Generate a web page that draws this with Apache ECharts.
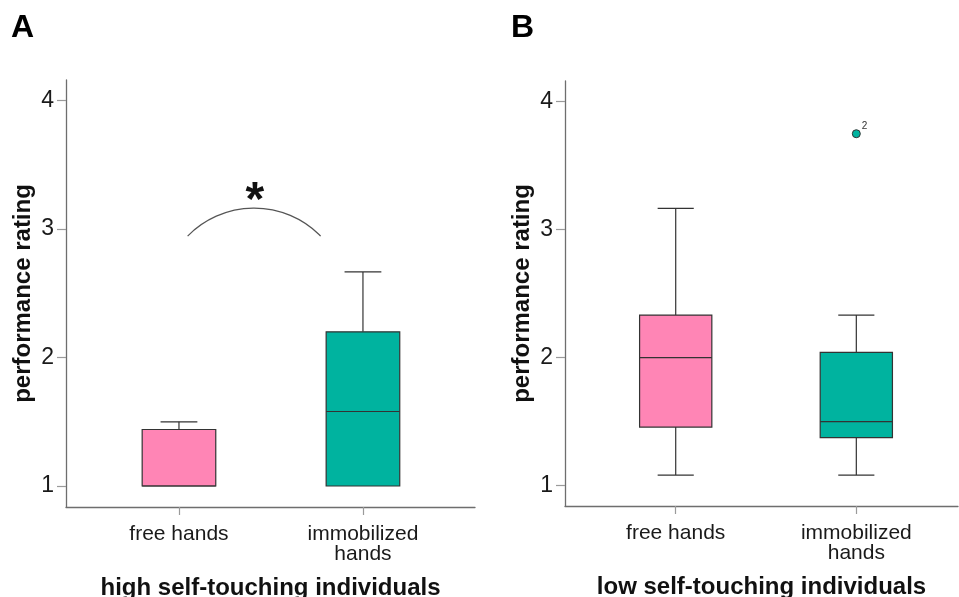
<!DOCTYPE html>
<html><head><meta charset="utf-8">
<script src="https://cdn.jsdelivr.net/npm/echarts@6/dist/echarts.min.js"></script>
<style>html,body{margin:0;padding:0;background:#fff}#c{width:959px;height:597px}</style>
</head><body><div id="c"></div>
<script>
const categories = ['free hands', 'immobilized\nhands'];
const yTicks = [1, 2, 3, 4];
const xTicks = [1, 2];
// box stats: [min, Q1, median, Q3, max]
const highBoxes = [[1.0, 1.0, 1.0, 1.44, 1.5], [1.0, 1.0, 1.58, 2.2, 2.667]];
const lowBoxes = [[1.083, 1.458, 2.0, 2.333, 3.167], [1.083, 1.375, 1.5, 2.042, 2.333]];
// outliers: [category position, value, case label]
const lowOutliers = [[2, 3.75, '2']];
// significance arc (left end, apex, right end) and star
const sigArc = [1.047, 2.946, 1.366, 3.161, 1.77, 2.946];
const sigStar = [1.413, 3.212, '*'];
const panelNames = ['high self-touching individuals', 'low self-touching individuals'];
const panelLetters = ['A', 'B'];
const boxColors = ['#FF85B5', '#00B39F'];

const FONT = '"Liberation Sans", Arial, sans-serif';
const chart = echarts.init(document.getElementById('c'), null, {renderer: 'canvas'});

function boxRender(params, api) {
  const x = api.value(0);
  const mn = api.value(1), q1 = api.value(2), md = api.value(3), q3 = api.value(4), mx = api.value(5);
  const hb = 0.2, hc = 0.1;
  const stroke = {stroke: '#333', lineWidth: 1.2};
  const children = [];
  const line = (a, b) => ({type: 'line', shape: {x1: a[0], y1: a[1], x2: b[0], y2: b[1]}, style: stroke});
  if (mx > q3) {
    children.push(line(api.coord([x, q3]), api.coord([x, mx])));
    children.push(line(api.coord([x - hc, mx]), api.coord([x + hc, mx])));
  }
  if (mn < q1) {
    children.push(line(api.coord([x, q1]), api.coord([x, mn])));
    children.push(line(api.coord([x - hc, mn]), api.coord([x + hc, mn])));
  }
  const tl = api.coord([x - hb, q3]);
  const br = api.coord([x + hb, q1]);
  children.push({type: 'rect', shape: {x: tl[0], y: tl[1], width: br[0] - tl[0], height: br[1] - tl[1]},
    style: {fill: boxColors[params.dataIndex], stroke: '#333', lineWidth: 1.2}});
  children.push(line(api.coord([x - hb, md]), api.coord([x + hb, md])));
  return {type: 'group', children};
}

function sigRender(params, api) {
  const a = api.coord([api.value(0), api.value(1)]);
  const b = api.coord([api.value(2), api.value(3)]);
  const c = api.coord([api.value(4), api.value(5)]);
  const d = 2 * (a[0] * (b[1] - c[1]) + b[0] * (c[1] - a[1]) + c[0] * (a[1] - b[1]));
  const A2 = a[0] * a[0] + a[1] * a[1], B2 = b[0] * b[0] + b[1] * b[1], C2 = c[0] * c[0] + c[1] * c[1];
  const ux = (A2 * (b[1] - c[1]) + B2 * (c[1] - a[1]) + C2 * (a[1] - b[1])) / d;
  const uy = (A2 * (c[0] - b[0]) + B2 * (a[0] - c[0]) + C2 * (b[0] - a[0])) / d;
  const r = Math.hypot(a[0] - ux, a[1] - uy);
  const s = Math.atan2(a[1] - uy, a[0] - ux), e = Math.atan2(c[1] - uy, c[0] - ux);
  const star = api.coord([sigStar[0], sigStar[1]]);
  return {type: 'group', children: [
    {type: 'arc', shape: {cx: ux, cy: uy, r: r, startAngle: s, endAngle: e, clockwise: true},
     style: {stroke: '#555', lineWidth: 1.2, fill: null}},
    {type: 'text', x: star[0], y: star[1],
     style: {text: sigStar[2], fontSize: 48, fontWeight: 'bold', fontFamily: FONT, fill: '#111',
             align: 'center', verticalAlign: 'middle'}}
  ]};
}

function xAxis(idx, min, max) {
  return {
    type: 'value', gridIndex: idx, min: min, max: max,
    axisLine: {show: true, onZero: false, lineStyle: {color: '#6e6e6e', width: 1.3}},
    axisTick: {show: true, customValues: xTicks, length: 8, lineStyle: {color: '#9a9a9a', width: 1.2}},
    axisLabel: {customValues: xTicks, formatter: v => categories[Math.round(v) - 1], margin: 17,
      fontSize: 21, lineHeight: 20, color: '#1a1a1a', fontFamily: FONT, align: 'center'},
    splitLine: {show: false},
    name: panelNames[idx], nameLocation: 'middle', nameGap: 69,
    nameTextStyle: {fontSize: 24, fontWeight: 'bold', color: '#111', fontFamily: FONT}
  };
}
function yAxis(idx, min, max) {
  return {
    type: 'value', gridIndex: idx, min: min, max: max,
    axisLine: {show: true, onZero: false, lineStyle: {color: '#6e6e6e', width: 1.3}},
    axisTick: {show: true, customValues: yTicks, length: 9, lineStyle: {color: '#9a9a9a', width: 1.2}},
    axisLabel: {customValues: yTicks, margin: 12, fontSize: 23, color: '#1a1a1a', fontFamily: FONT},
    splitLine: {show: false},
    name: 'performance rating', nameLocation: 'middle', nameGap: 31, nameRotate: 90,
    nameTextStyle: {fontSize: 24, fontWeight: 'bold', color: '#111', fontFamily: FONT}
  };
}

const option = {
  animation: false,
  backgroundColor: '#fff',
  title: [
    {text: panelLetters[0], left: 11, top: 12, padding: 0, textStyle: {fontSize: 32, fontWeight: 'bold', color: '#000', fontFamily: FONT}},
    {text: panelLetters[1], left: 511, top: 12, padding: 0, textStyle: {fontSize: 32, fontWeight: 'bold', color: '#000', fontFamily: FONT}}
  ],
  grid: [
    {left: 66, top: 80, width: 409, height: 427, outerBoundsMode: 'none', containLabel: false},
    {left: 565, top: 81, width: 393, height: 425, outerBoundsMode: 'none', containLabel: false}
  ],
  xAxis: [xAxis(0, 0.386, 2.609), xAxis(1, 0.387, 2.563)],
  yAxis: [yAxis(0, 0.8365, 4.161), yAxis(1, 0.841, 4.162)],
  series: [
    {type: 'custom', xAxisIndex: 0, yAxisIndex: 0, clip: false, renderItem: boxRender,
     encode: {x: 0, y: [1, 2, 3, 4, 5]}, data: highBoxes.map((b, i) => [xTicks[i]].concat(b))},
    {type: 'custom', xAxisIndex: 1, yAxisIndex: 1, clip: false, renderItem: boxRender,
     encode: {x: 0, y: [1, 2, 3, 4, 5]}, data: lowBoxes.map((b, i) => [xTicks[i]].concat(b))},
    {type: 'custom', xAxisIndex: 0, yAxisIndex: 0, clip: false, renderItem: sigRender,
     encode: {x: [0, 2, 4], y: [1, 3, 5]}, data: [sigArc]},
    {type: 'scatter', xAxisIndex: 1, yAxisIndex: 1, symbolSize: 8,
     itemStyle: {color: boxColors[1], borderColor: '#333', borderWidth: 1, opacity: 1},
     label: {show: true, formatter: p => p.data.name, position: 'right', distance: 1, offset: [0, -7],
       fontSize: 10, color: '#333', fontFamily: FONT},
     data: lowOutliers.map(o => ({value: [o[0], o[1]], name: o[2]}))}
  ]
};
chart.setOption(option);
</script></body></html>
